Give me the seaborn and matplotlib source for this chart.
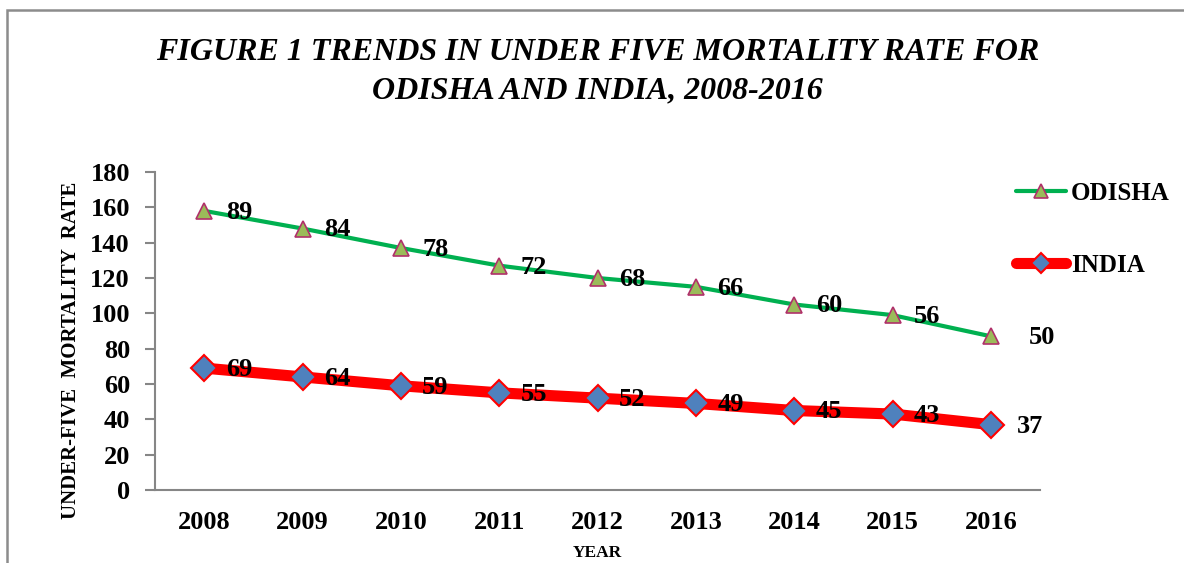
import matplotlib
matplotlib.use("Agg")
import matplotlib.pyplot as plt
import seaborn as sns
import pandas as pd
import numpy as np
from matplotlib.patches import Rectangle

years = [2008, 2009, 2010, 2011, 2012, 2013, 2014, 2015, 2016]
odisha = [89, 84, 78, 72, 68, 66, 60, 56, 50]
india = [69, 64, 59, 55, 52, 49, 45, 43, 37]
yticks = [0, 20, 40, 60, 80, 100, 120, 140, 160, 180]

title = "FIGURE 1 TRENDS IN UNDER FIVE MORTALITY RATE FOR\nODISHA AND INDIA, 2008-2016"

sns.set_style("white")
plt.rcParams['font.family'] = ['Liberation Serif', 'DejaVu Serif']
plt.rcParams['text.color'] = 'black'
plt.rcParams['axes.labelcolor'] = 'black'
plt.rcParams['xtick.color'] = 'black'
plt.rcParams['ytick.color'] = 'black'

# stacked line chart (as in the original Excel chart)
india_arr = np.array(india)
odisha_stacked = india_arr + np.array(odisha)
df = pd.DataFrame({"year": years, "INDIA": india_arr, "ODISHA": odisha_stacked})

fig = plt.figure(figsize=(11.84, 5.63), dpi=100)
ax = fig.add_axes([155/1184, 1 - 490/563, (1040-155)/1184, (490-172)/563])

sns.lineplot(data=df, x="year", y="ODISHA", ax=ax, color="#00B050", lw=3,
             marker="^", markersize=12, markerfacecolor="#9BBB59",
             markeredgecolor="#B0306A", markeredgewidth=1.2, label="ODISHA", zorder=3)
sns.lineplot(data=df, x="year", y="INDIA", ax=ax, color="#FF0000", lw=8,
             marker="D", markersize=13, markerfacecolor="#4F81BD",
             markeredgecolor="#FF0000", markeredgewidth=1.5, label="INDIA", zorder=3)

n = len(years)
for i, (yr, ov, os_, iv) in enumerate(zip(years, odisha, odisha_stacked, india)):
    dx = 37 if i == n - 1 else 25
    ax.annotate(str(ov), (yr, os_), xytext=(dx, -1), textcoords="offset points",
                ha="center", va="center", fontsize=19, fontweight="bold")
    dx2 = 28 if i == n - 1 else 25
    ax.annotate(str(iv), (yr, iv), xytext=(dx2, -1), textcoords="offset points",
                ha="center", va="center", fontsize=19, fontweight="bold")

ax.set_xlim(years[0] - 0.5, years[-1] + 0.5)
ax.set_ylim(0, 180)
ax.set_xticks(years)
ax.set_xticklabels([str(y) for y in years], fontsize=19, fontweight="bold")
ax.set_xticks([y - 0.5 for y in years] + [years[-1] + 0.5], minor=True)
ax.tick_params(axis="x", which="major", length=0, pad=15)
ax.tick_params(axis="x", which="minor", length=7, width=1.5, color="#868686", direction="out")
ax.set_yticks(yticks)
ax.set_yticklabels([str(v) for v in yticks], fontsize=19, fontweight="bold")
ax.tick_params(axis="y", length=7, width=1.5, color="#868686", direction="out", pad=11, left=True)

for s in ["top", "right"]:
    ax.spines[s].set_visible(False)
for s in ["left", "bottom"]:
    ax.spines[s].set_color("#868686")
    ax.spines[s].set_linewidth(1.5)

ax.set_xlabel("YEAR", fontsize=12.5, fontweight="bold", labelpad=8)
ax.set_ylabel("UNDER-FIVE  MORTALITY  RATE", fontsize=15, fontweight="bold")
ax.yaxis.set_label_coords((81 - 155) / 885, (490 - 350) / 318)

ax.set_title(title, fontsize=23, fontweight="bold", style="italic", pad=53, linespacing=1.42)

handles, labels = ax.get_legend_handles_labels()
leg = ax.legend(handles, labels, loc="upper left", bbox_to_anchor=(1016/1184, 1 - 182/563),
                bbox_transform=fig.transFigure, frameon=False, handlelength=2.0,
                handletextpad=0.2, labelspacing=1.95, markerscale=0.8, borderpad=0,
                borderaxespad=0,
                prop={"family": "Liberation Serif", "weight": "bold", "size": 18})

fig.patches.append(Rectangle((7/1184, -0.1), 1.2, 1.1 - 10/563, transform=fig.transFigure,
                             fill=False, edgecolor="#8C8C8C", lw=1.8, zorder=0))

fig.savefig("out.png", dpi=100)
